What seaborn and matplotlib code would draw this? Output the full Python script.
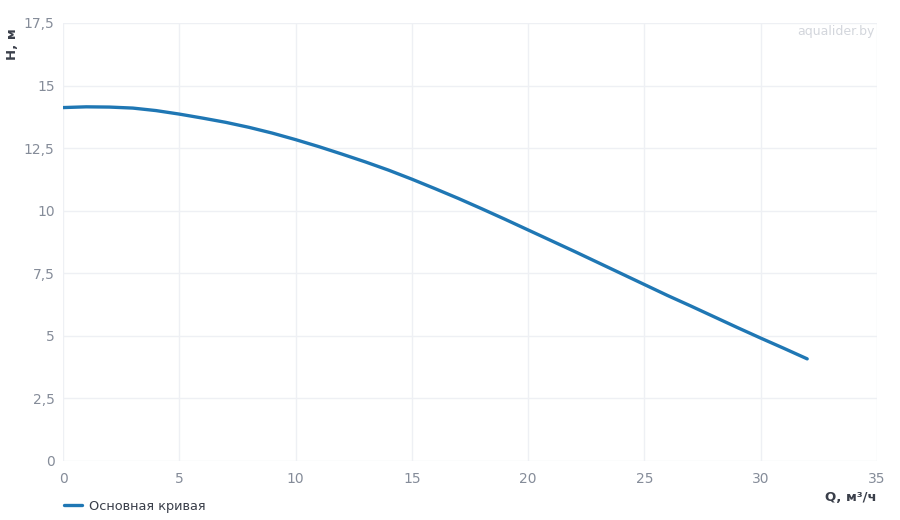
import pandas as pd
import matplotlib
matplotlib.use('Agg')
import matplotlib.pyplot as plt
import seaborn as sns
from matplotlib.ticker import FuncFormatter, MultipleLocator

# --- DATA ---
q_values = [0, 1, 2, 3, 4, 5, 6, 7, 8, 9, 10, 11, 12, 13, 14, 15, 16,
            17, 18, 19, 20, 21, 22, 23, 24, 25, 26, 27, 28, 29, 30, 31, 32]
h_values = [14.12, 14.15, 14.14, 14.10, 14.00, 13.86, 13.70, 13.53, 13.33,
            13.10, 12.84, 12.56, 12.26, 11.95, 11.62, 11.26, 10.88, 10.49,
            10.08, 9.66, 9.23, 8.80, 8.37, 7.93, 7.49, 7.05, 6.61, 6.19,
            5.76, 5.33, 4.91, 4.50, 4.08]
series_name = 'Основная кривая'

df = pd.DataFrame({'Q': q_values, 'H': h_values, 'series': series_name})

# --- STYLE ---
sns.set_theme(style='white')
plt.rcParams['font.family'] = ['DejaVu Sans']

tick_color = '#858c99'
label_color = '#3a3f4a'
grid_color = '#eef0f4'
line_color = '#1f77b4'

fig = plt.figure(figsize=(9, 5.2), dpi=100)
ax = fig.add_axes([0.07, 0.1135, 0.9044, 0.8423])

sns.lineplot(data=df, x='Q', y='H', hue='series', palette=[line_color],
             linewidth=2.4, ax=ax, legend=True)

ax.set_xlim(0, 35)
ax.set_ylim(0, 17.5)
ax.xaxis.set_major_locator(MultipleLocator(5))
ax.yaxis.set_major_locator(MultipleLocator(2.5))
ax.yaxis.set_major_formatter(FuncFormatter(lambda v, p: f'{v:g}'.replace('.', ',')))

ax.grid(True, color=grid_color, linewidth=1)
for s in ax.spines.values():
    s.set_visible(False)
ax.tick_params(axis='both', colors=tick_color, labelsize=10, length=0)
ax.tick_params(axis='x', pad=8)
ax.tick_params(axis='y', pad=6)

ax.set_xlabel('')
ax.set_ylabel('')
fig.text(0.974, 0.043, 'Q, м³/ч', ha='right', va='center', fontsize=9.5,
         fontweight='bold', color=label_color)
fig.text(0.014, 0.945, 'H, м', ha='center', va='top', rotation=90,
         fontsize=9.5, fontweight='bold', color=label_color)

# watermark
ax.text(0.997, 0.995, 'aqualider.by', transform=ax.transAxes, ha='right',
        va='top', fontsize=9, color='#d3d6dc')

leg = ax.legend(loc='center left', bbox_to_anchor=(-0.013, -0.103), frameon=False,
                fontsize=9.3, handlelength=1.4, handletextpad=0.5)
for t in leg.get_texts():
    t.set_color(label_color)

fig.savefig('out.png', dpi=100)
